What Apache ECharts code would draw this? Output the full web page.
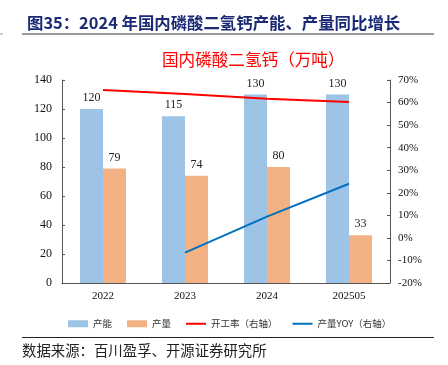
<!DOCTYPE html>
<html><head><meta charset="utf-8">
<script src="https://cdn.jsdelivr.net/npm/echarts@6/dist/echarts.min.js"></script>
<style>html,body{margin:0;padding:0;background:#fff}#c{width:448px;height:365px}</style>
</head><body><div id="c"></div>
<script>
const categories = ['2022', '2023', '2024', '202505'];
const capacity = [120, 115, 130, 130];
const output = [79, 74, 80, 33];
const utilization = [65.6, 63.8, 61.7, 60.2];
const outputYoY = [null, -6.5, 9.4, 24.0];
const leftTicks = {min: 0, max: 140, interval: 20};
const rightTicks = {min: -20, max: 70, interval: 10};

const serif = '"Liberation Serif","Times New Roman",serif';
const cjk = '"Noto Sans CJK SC",sans-serif';
const lineIcon = 'path://M0,0L20,0L20,0.01L0,0.01Z M0,2.6L20,2.6L20,4.4L0,4.4Z M0,6.99L20,6.99L20,7L0,7Z';
const chart = echarts.init(document.getElementById('c'), null, {renderer: 'canvas'});
chart.setOption({
  animation: false,
  backgroundColor: '#fff',
  title: [{
    text: '图35：2024 年国内磷酸二氢钙产能、产量同比增长',
    left: 22, top: 10,
    textStyle: {fontFamily: cjk, fontSize: 16.4, fontWeight: 'bold', color: '#1b2a74'}
  }, {
    text: '国内磷酸二氢钙（万吨）',
    left: 157, top: 46,
    textStyle: {fontFamily: cjk, fontSize: 16.6, fontWeight: 'normal', color: '#ff0000'}
  }],
  graphic: [
    {type: 'line', shape: {x1: 22, y1: 34, x2: 434, y2: 34}, style: {stroke: '#777', lineWidth: 1.5}},
    {type: 'line', shape: {x1: 0, y1: 34, x2: 3, y2: 34}, style: {stroke: '#999', lineWidth: 1}},
    {type: 'line', shape: {x1: 22, y1: 337.5, x2: 434, y2: 337.5}, style: {stroke: '#222', lineWidth: 1}},
    {type: 'text', left: 22, top: 343, style: {text: '数据来源：百川盈孚、开源证券研究所', font: '14.4px "Noto Sans CJK SC"', fill: '#222'}}
  ],
  legend: {
    left: 63, top: 314, itemWidth: 20, itemHeight: 7, itemGap: 15,
    textStyle: {fontFamily: cjk, fontSize: 9.5, color: '#333'},
    data: [
      {name: '产能', icon: 'rect'},
      {name: '产量', icon: 'rect'},
      {name: '开工率（右轴）', icon: lineIcon},
      {name: '产量YOY（右轴）', icon: lineIcon}
    ]
  },
  grid: {left: 62, right: 58, top: 80, bottom: 82},
  xAxis: {
    type: 'category', data: categories,
    axisLine: {lineStyle: {color: '#555', width: 1}},
    axisTick: {inside: true, length: 3, lineStyle: {color: '#555'}},
    axisLabel: {fontFamily: serif, fontSize: 11, color: '#111', margin: 8}
  },
  yAxis: [{
    type: 'value', min: leftTicks.min, max: leftTicks.max, interval: leftTicks.interval,
    splitLine: {show: false},
    axisLine: {show: true, lineStyle: {color: '#555'}},
    axisTick: {show: true, inside: true, length: 3, lineStyle: {color: '#555'}},
    axisLabel: {fontFamily: serif, fontSize: 12, color: '#111', margin: 10}
  }, {
    type: 'value', min: rightTicks.min, max: rightTicks.max, interval: rightTicks.interval,
    splitLine: {show: false},
    axisLine: {show: true, lineStyle: {color: '#555'}},
    axisTick: {show: true, inside: true, length: 3, lineStyle: {color: '#555'}},
    axisLabel: {fontFamily: serif, fontSize: 11, color: '#111', margin: 8, formatter: '{value}%'}
  }],
  series: [{
    name: '产能', type: 'bar', data: capacity, barWidth: 23, barGap: '0%',
    itemStyle: {color: '#9dc3e6'},
    label: {show: true, position: 'top', distance: 5, fontFamily: serif, fontSize: 12, color: '#222'}
  }, {
    name: '产量', type: 'bar', data: output, barWidth: 23,
    itemStyle: {color: '#f4b183'},
    label: {show: true, position: 'top', distance: 5, fontFamily: serif, fontSize: 12, color: '#222'}
  }, {
    name: '开工率（右轴）', type: 'line', yAxisIndex: 1, data: utilization,
    symbol: 'none', lineStyle: {color: '#ff0000', width: 2}, itemStyle: {color: '#ff0000'}
  }, {
    name: '产量YOY（右轴）', type: 'line', yAxisIndex: 1, data: outputYoY,
    symbol: 'none', lineStyle: {color: '#0070c0', width: 2}, itemStyle: {color: '#0070c0'}
  }]
});
</script></body></html>
